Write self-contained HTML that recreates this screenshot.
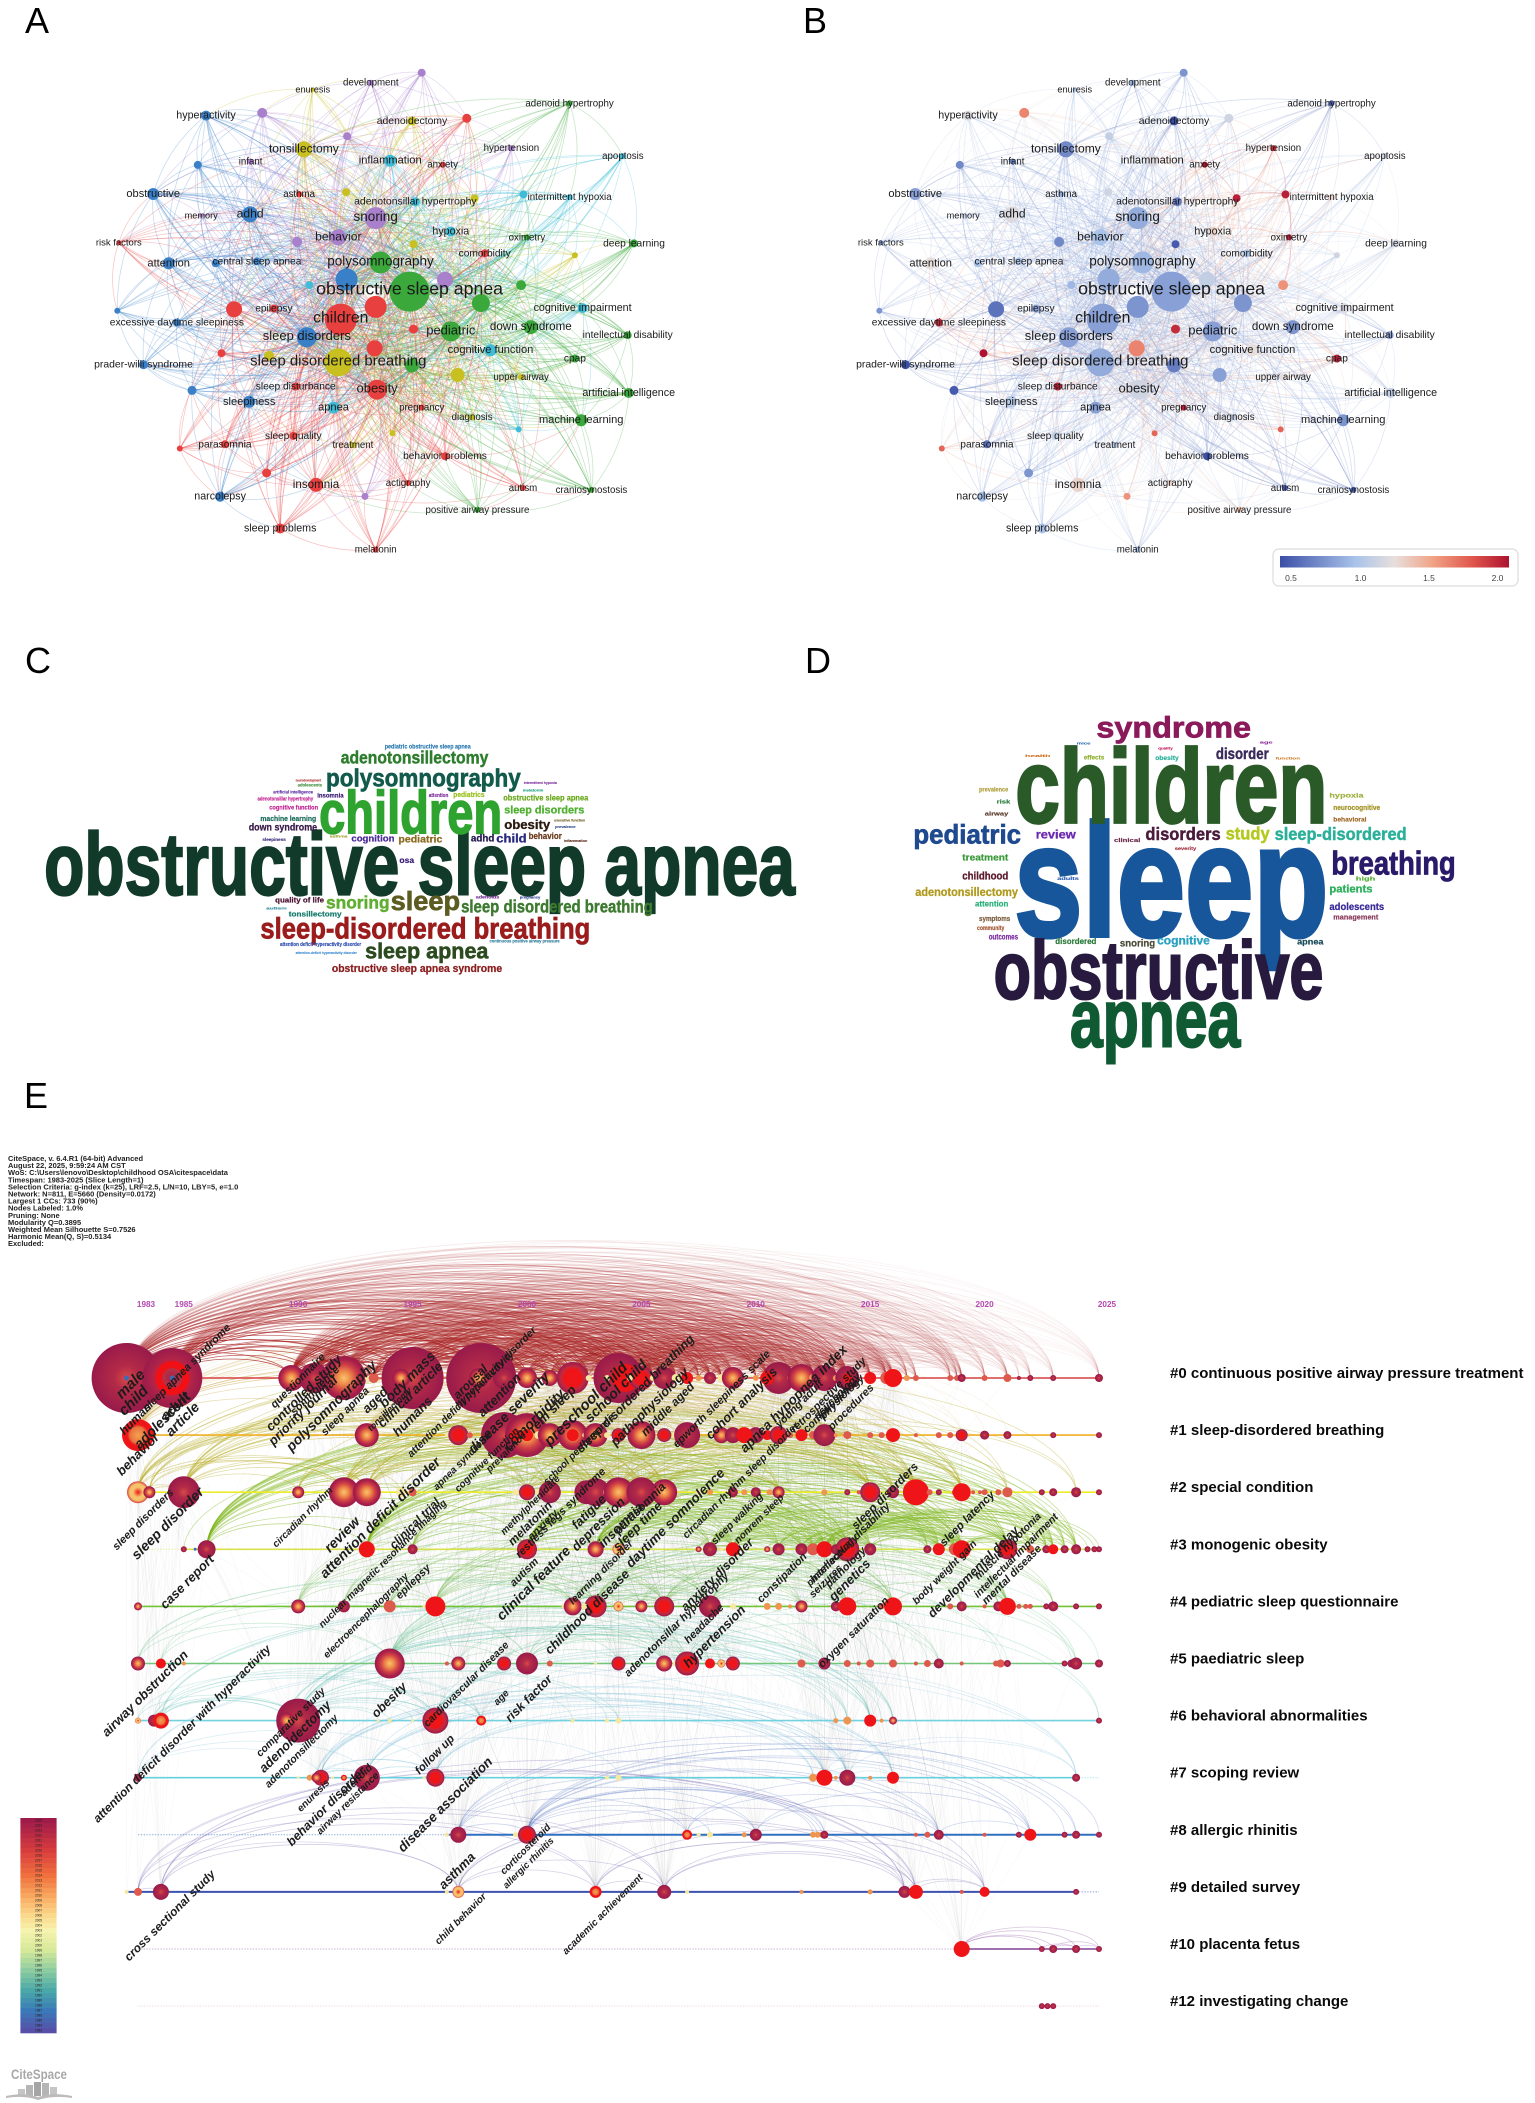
<!DOCTYPE html>
<html lang="en">
<head>
<meta charset="utf-8">
<title>Childhood OSA bibliometric figure</title>
<style>
html,body{margin:0;padding:0;background:#fff}
svg{display:block;font-family:"Liberation Sans",sans-serif}
.panel-letter{font-size:36px;fill:#000}
.word{font-weight:700}
.kw{font-size:10px;fill:#1a1a1a;text-anchor:middle}
.tl{font-weight:700;font-style:italic;fill:#1c1c1c}
.rowname{font-weight:700;font-size:15px;fill:#0a0a0a}
.info{font-weight:700;font-size:7.5px;fill:#222}
.yr{font-size:8.2px;font-weight:700;fill:#b548b0;text-anchor:middle}
#net-a,#net-b{filter:blur(.35px)}
</style>
</head>
<body>
<svg id="figure" xmlns="http://www.w3.org/2000/svg" width="1535" height="2103" viewBox="0 0 1535 2103">
<defs>
<radialGradient id="kind-m"><stop offset="0" stop-color="#f9c46c"/><stop offset=".3" stop-color="#ef8a4a"/><stop offset=".6" stop-color="#cf3f45"/><stop offset=".85" stop-color="#a81f4a"/><stop offset="1" stop-color="#9a1b4b"/></radialGradient>
<radialGradient id="kind-d"><stop offset="0" stop-color="#d84a46"/><stop offset=".35" stop-color="#b32a48"/><stop offset="1" stop-color="#981a4a"/></radialGradient>
<radialGradient id="kind-c"><stop offset="0" stop-color="#f01518"/><stop offset=".55" stop-color="#ee1518"/><stop offset=".72" stop-color="#c22a40"/><stop offset="1" stop-color="#9a1b4b"/></radialGradient>
<radialGradient id="kind-x"><stop offset="0" stop-color="#a62248"/><stop offset=".3" stop-color="#b53246"/><stop offset=".36" stop-color="#f01015"/><stop offset=".55" stop-color="#f01015"/><stop offset=".6" stop-color="#b32548"/><stop offset="1" stop-color="#9a1b4b"/></radialGradient>
<radialGradient id="kind-h"><stop offset="0" stop-color="#f4a050"/><stop offset=".5" stop-color="#e8743f"/><stop offset=".66" stop-color="#ee1518"/><stop offset="1" stop-color="#ee1518"/></radialGradient>
<radialGradient id="kind-p"><stop offset="0" stop-color="#f01518"/><stop offset=".45" stop-color="#f6c26c"/><stop offset=".75" stop-color="#f6c26c"/><stop offset="1" stop-color="#d8413f"/></radialGradient>
<linearGradient id="legend-gradient"><stop offset="0" stop-color="#3b4fa6"/><stop offset=".33" stop-color="#a9c3ea"/><stop offset=".5" stop-color="#e8dfdc"/><stop offset=".67" stop-color="#f0a284"/><stop offset=".84" stop-color="#e0564c"/><stop offset="1" stop-color="#ad1230"/></linearGradient>
</defs>

<text class="panel-letter" x="25" y="33">A</text>
<text class="panel-letter" x="803" y="33">B</text>
<text class="panel-letter" x="25" y="673">C</text>
<text class="panel-letter" x="805" y="673">D</text>
<text class="panel-letter" x="24" y="1108">E</text>

<g id="net-a"></g>
<g id="net-b"></g>

<g font-size="8.5" fill="#444" text-anchor="middle">
<rect x="1273" y="549" width="245" height="37" rx="6" fill="#fff" stroke="#dcdcdc" stroke-width="1.2"/>
<rect x="1280" y="556" width="229" height="11.5" fill="url(#legend-gradient)"/>
<text x="1291" y="581">0.5</text>
<text x="1360.5" y="581">1.0</text>
<text x="1429" y="581">1.5</text>
<text x="1497.5" y="581">2.0</text>
</g>

<g id="cloud-c">
<text class="word" data-box="45 812 793 88" fill="#113a2a">obstructive sleep apnea</text>
<text class="word" data-box="326 513 610 60" fill="#2fa32f">children</text>
<text class="word" data-box="333 532 470 25" fill="#125a4c">polysomnography</text>
<text class="word" data-box="348 499 400 18" fill="#2e7d2e">adenotonsillectomy</text>
<text class="word" data-box="393 481 355 6" fill="#2a7ab0">pediatric obstructive sleep apnea</text>
<text class="word" data-box="266 603 925 30" fill="#9b1c1c">sleep-disordered breathing</text>
<text class="word" data-box="399 470 840 26" fill="#5c5c22">sleep</text>
<text class="word" data-box="333 398 836 18" fill="#5fae2f">snoring</text>
<text class="word" data-box="471 667 848 18" fill="#3d7a30">sleep disordered breathing</text>
<text class="word" data-box="373 499 985 22" fill="#2c4a1f">sleep apnea</text>
<text class="word" data-box="339 513 1026 11" fill="#8b1f1f">obstructive sleep apnea syndrome</text>
<text class="word" data-box="295 349 860 7.5" fill="#137a6a">tonsillectomy</text>
<text class="word" data-box="281 331 818 7.5" fill="#4a1030">quality of life</text>
<text class="word" data-box="515 562 597 13" fill="#2a1a10">obesity</text>
<text class="word" data-box="515 597 550 11" fill="#4fb030">sleep disorders</text>
<text class="word" data-box="514 601 511 8" fill="#6aa81e">obstructive sleep apnea</text>
<text class="word" data-box="481 505 634 10" fill="#241a50">adhd</text>
<text class="word" data-box="507 538 638 12" fill="#2a2a80">child</text>
<text class="word" data-box="540 574 627 9" fill="#6a3a1a">behavior</text>
<text class="word" data-box="407 452 638 10" fill="#8a6a20">pediatric</text>
<text class="word" data-box="359 403 634 9" fill="#4a2a9a">cognition</text>
<text class="word" data-box="254 324 602 10" fill="#3a1a4a">down syndrome</text>
<text class="word" data-box="266 323 573 7.5" fill="#1a6a5a">machine learning</text>
<text class="word" data-box="275 325 539 6.5" fill="#c02090">cognitive function</text>
<text class="word" data-box="324 351 502 6" fill="#3a1a70">insomnia</text>
<text class="word" data-box="463 495 501 7" fill="#9ac01e">pediatrics</text>
<text class="word" data-box="438 458 501 5" fill="#7a2a9a">attention</text>
<text class="word" data-box="279 320 491 4.5" fill="#5a2aa0">artificial intelligence</text>
<text class="word" data-box="263 320 511 5" fill="#c02090">adenotonsillar hypertrophy</text>
<text class="word" data-box="304 329 469 4.5" fill="#3a8a3a">adolescents</text>
<text class="word" data-box="302 328 454 4" fill="#b02a2a">neurodevelopment</text>
<text class="word" data-box="535 569 462 4" fill="#7a2a9a">intermittent hypoxia</text>
<text class="word" data-box="534 555 484 4" fill="#1aa07a">melatonin</text>
<text class="word" data-box="566 598 575 4" fill="#6a5a1a">executive function</text>
<text class="word" data-box="567 588 594 4" fill="#2a4a8a">prevalence</text>
<text class="word" data-box="576 600 636 4" fill="#5a2a1a">inflammation</text>
<text class="word" data-box="268 292 633 4.5" fill="#3a2a7a">sleepiness</text>
<text class="word" data-box="337 355 622 4" fill="#a0a030">asthma</text>
<text class="word" data-box="408 423 699 8" fill="#3a1a7a">osa</text>
<text class="word" data-box="286 369 948 5" fill="#2a4ab0">attention deficit hyperactivity disorder</text>
<text class="word" data-box="500 572 937 4.5" fill="#2a7a9a">continuous positive airway pressure</text>
<text class="word" data-box="302 365 972 4" fill="#3a8ad0">attention-deficit hyperactivity disorder</text>
<text class="word" data-box="486 510 806 4.5" fill="#6a2a8a">adenoids</text>
<text class="word" data-box="531 552 806 4" fill="#2a3a8a">pregnancy</text>
<text class="word" data-box="272 293 838 4" fill="#2a8a9a">autism</text>
</g>

<g id="cloud-d">
<text class="word" data-box="1036 1357 918 160" fill="#17569b">sleep</text>
<text class="word" data-box="1037 1356 577 105" fill="#2a5a28">children</text>
<text class="word" data-box="1015 1352 1105 82" fill="#271a3e">obstructive</text>
<text class="word" data-box="1093 1267 1250 82" fill="#0f5a32">apnea</text>
<text class="word" data-box="1120 1278 322 30" fill="#8a1a5a">syndrome</text>
<text class="word" data-box="933 1043 640 27" fill="#1f4a8f">pediatric</text>
<text class="word" data-box="1360 1487 733 33" fill="#2a1a6a">breathing</text>
<text class="word" data-box="1170 1247 630 18" fill="#4a1a3a">disorders</text>
<text class="word" data-box="1252 1297 628 18" fill="#b4c81e">study</text>
<text class="word" data-box="1302 1437 630 18" fill="#2ab09a">sleep-disordered</text>
<text class="word" data-box="1058 1099 626 12" fill="#6a2ab0">review</text>
<text class="word" data-box="1242 1296 387 16" fill="#3a2a5a">disorder</text>
<text class="word" data-box="983 1030 692 9.5" fill="#3a9a3a">treatment</text>
<text class="word" data-box="983 1030 748 11" fill="#5a1a2a">childhood</text>
<text class="word" data-box="935 1040 798 12" fill="#b09a1e">adenotonsillectomy</text>
<text class="word" data-box="1358 1402 788 11" fill="#2ab05a">patients</text>
<text class="word" data-box="1358 1414 840 10" fill="#3a2a9a">adolescents</text>
<text class="word" data-box="1362 1408 868 7" fill="#8a3a5a">management</text>
<text class="word" data-box="996 1030 830 8" fill="#2ab07a">attention</text>
<text class="word" data-box="1182 1236 943 12" fill="#2aa0c0">cognitive</text>
<text class="word" data-box="1144 1180 950 10" fill="#4a4a3a">snoring</text>
<text class="word" data-box="1078 1120 942 8" fill="#2a7a3a">disordered</text>
<text class="word" data-box="1325 1352 943 8" fill="#1a4a5a">apnea</text>
<text class="word" data-box="1010 1040 928 8" fill="#7a2aa0">outcomes</text>
<text class="word" data-box="1000 1032 873 7.5" fill="#7a5a3a">symptoms</text>
<text class="word" data-box="998 1026 900 6" fill="#a0502a">community</text>
<text class="word" data-box="1006 1030 556 5.5" fill="#5a3a2a">airway</text>
<text class="word" data-box="1018 1032 520 5" fill="#2a7a3a">risk</text>
<text class="word" data-box="1000 1030 484 6" fill="#b0a040">prevalence</text>
<text class="word" data-box="1358 1393 503 6" fill="#a0b040">hypoxia</text>
<text class="word" data-box="1362 1410 540 7" fill="#a09020">neurocognitive</text>
<text class="word" data-box="1362 1396 575 6.5" fill="#a06a2a">behavioral</text>
<text class="word" data-box="1138 1165 636 5" fill="#6a2a4a">clinical</text>
<text class="word" data-box="1180 1204 390 6" fill="#2ab09a">obesity</text>
<text class="word" data-box="1107 1128 388 6" fill="#90b030">effects</text>
<text class="word" data-box="1047 1073 381 4" fill="#d07020">health</text>
<text class="word" data-box="1303 1328 389 4" fill="#d08030">function</text>
<text class="word" data-box="1183 1198 358 4" fill="#c02060">quality</text>
<text class="word" data-box="1100 1114 344 4" fill="#2a6ab0">mice</text>
<text class="word" data-box="1287 1300 340 4" fill="#8a2a9a">age</text>
<text class="word" data-box="1080 1102 750 4.5" fill="#2a5ab0">adults</text>
<text class="word" data-box="1385 1405 752 5" fill="#5ab040">high</text>
<text class="word" data-box="1200 1222 660 5" fill="#a03040">severity</text>
</g>

<g>
<text class="info" x="8" y="1161">CiteSpace, v. 6.4.R1 (64-bit) Advanced</text>
<text class="info" x="8" y="1168.1">August 22, 2025, 9:59:24 AM CST</text>
<text class="info" x="8" y="1175.2">WoS: C:\Users\lenovo\Desktop\childhood  OSA\citespace\data</text>
<text class="info" x="8" y="1182.3">Timespan: 1983-2025 (Slice Length=1)</text>
<text class="info" x="8" y="1189.4">Selection Criteria: g-index (k=25), LRF=2.5, L/N=10, LBY=5, e=1.0</text>
<text class="info" x="8" y="1196.5">Network: N=811, E=5660 (Density=0.0172)</text>
<text class="info" x="8" y="1203.6">Largest 1 CCs: 733 (90%)</text>
<text class="info" x="8" y="1210.7">Nodes Labeled: 1.0%</text>
<text class="info" x="8" y="1217.8">Pruning: None</text>
<text class="info" x="8" y="1224.9">Modularity Q=0.3895</text>
<text class="info" x="8" y="1232">Weighted Mean Silhouette S=0.7526</text>
<text class="info" x="8" y="1239.1">Harmonic Mean(Q, S)=0.5134</text>
<text class="info" x="8" y="1246.2">Excluded:</text>
</g>

<g id="timeline"></g>
<g id="colorbar"></g>

<g fill="#9a9a9a">
<text x="11" y="2079" font-size="13.5" font-weight="700" textLength="56" lengthAdjust="spacingAndGlyphs" fill="#a8a8a8">CiteSpace</text>
<rect x="18" y="2089" width="7" height="7" fill="#c5c5c5"/>
<rect x="26" y="2085" width="7" height="11" fill="#b5b5b5"/>
<rect x="34" y="2082" width="7" height="14" fill="#a5a5a5"/>
<rect x="42" y="2083" width="7" height="13" fill="#b5b5b5"/>
<rect x="50" y="2087" width="7" height="9" fill="#c5c5c5"/>
<path d="M6 2096 Q24 2092 38 2097 Q54 2092 72 2096 L72 2098 Q54 2095 38 2100 Q24 2095 6 2098Z" fill="#bbb"/>
</g>
</svg>

<script>
/* ---------- Keyword network data (panels A, B) ----------
   columns: keyword, map x, map y, occurrence weight, cluster, average normalized citations */
const keywords = [
['obstructive sleep apnea',845,762,20,'g',.85],['children',703,835,16,'r',.85],['polysomnography',785,686,11,'g',.95],
['sleep disordered breathing',698,947,14,'y',.9],['',715,730,11,'b',.9],['',775,802,11,'r',.8],['',918,731,8,'p',1.1],
['',638,745,4,'c',.95],['',992,792,9,'g',.8],['',1075,745,5,'g',1.55],['',483,808,8,'r',.65],['epilepsy',565,806,4,'r',.85],
['sleep disorders',633,881,10,'b',.85],['',773,910,8,'r',1.6],['',853,860,4.5,'r',1.9],['pediatric',930,866,10,'g',.85],
['down syndrome',1095,855,7,'g',.8],['cognitive function',1012,915,6,'c',1.25],['',850,955,7,'g',.7],['',944,980,7,'y',.85],
['obesity',778,1018,10,'r',1.15],['',555,930,5,'y',1.2],['',457,923,4,'r',2],['cpap',1186,937,4,'g',1.95],
['cognitive impairment',1202,805,5,'c',1.2],['intellectual disability',1295,876,4,'g',.85],['artificial intelligence',1297,1027,5,'g',1.1],
['machine learning',1199,1098,6,'g',.8],['upper airway',1075,985,3,'y',1.25],['diagnosis',974,1090,3,'y',1.1],['apnea',688,1065,6,'c',.85],
['sleepiness',514,1050,6,'b',1.05],['sleep disturbance',610,1010,4,'r',1.95],['pregnancy',870,1065,3,'r',1.95],['',1070,1122,3,'c',1.7],
['',810,1132,3,'y',1.7],['sleep quality',605,1139,4,'r',1.1],['parasomnia',464,1161,4,'r',.65],['',371,1172,3,'r',1.7],['treatment',728,1163,3,'y',1.05],
['behavior problems',918,1192,4,'r',.5],['',550,1236,4.5,'r',.8],['insomnia',652,1267,7,'r',1.3],['actigraphy',842,1262,3,'r',1.3],['',753,1297,3.5,'p',1.55],
['autism',1079,1275,3,'r',.55],['craniosynostosis',1220,1280,3,'g',.55],['positive airway pressure',985,1332,3,'g',1.4],['narcolepsy',454,1298,5,'b',1],
['sleep problems',578,1381,5,'r',1],['melatonin',775,1436,3,'r',1],['prader-willi syndrome',296,953,4.5,'b',.5],['',396,1020,4.5,'b',.55],['',242,812,3,'b',.8],
['excessive daytime sleepiness',365,843,4,'b',1.9],['attention',348,688,6,'b',1.25],['central sleep apnea',530,683,4,'b',1],['',445,688,4,'b',1],
['risk factors',245,634,2.5,'r',.85],['memory',415,563,2,'p',1.1],['obstructive',316,507,6,'b',.85],['adhd',516,560,8,'b',1.2],['infant',517,422,3,'p',.7],
['',408,431,4,'b',.75],['hyperactivity',425,302,5,'b',1.2],['',541,295,5,'p',1.6],['enuresis',645,234,2,'y',1],['development',765,216,3,'p',.9],['',870,190,4,'p',.8],
['adenoidectomy',850,316,4.5,'y',.5],['',716,356,4,'p',1.1],['',963,309,4.5,'r',1.15],['tonsillectomy',627,390,8,'y',.75],['inflammation',805,420,6,'c',1.2],
['anxiety',913,430,3,'r',2],['hypertension',1055,387,3,'p',1.9],['adenoid hypertrophy',1175,270,3,'g',.55],['apoptosis',1285,408,3,'c',1.15],['',1080,508,4,'c',1.95],
['intermittent hypoxia',1175,515,3,'c',1.3],['asthma',617,507,3,'r',.9],['',714,502,4,'y',1.15],['adenotonsillar hypertrophy',857,527,4.5,'c',.7],['',979,518,4,'y',1.95],
['snoring',775,570,11,'p',.9],['behavior',698,620,8,'p',1],['',613,632,5,'p',.75],['hypoxia',930,605,5,'c',1.3],['',853,638,4,'y',.55],['oximetry',1087,620,3,'g',1.95],
['comorbidity',1000,662,4,'r',1],['deep learning',1308,636,4,'g',1.15],['',1186,667,3,'y',1.15]
];
const clusterColors = {r:'#e8403f',g:'#3aa83a',b:'#3a80c8',y:'#c8c020',p:'#a880cc',c:'#40bcd8'};
const scoreStops = [.5,1,1.25,1.5,1.75,2];
const scoreColors = ['#3b4fa6','#a9c3ea','#e8dfdc','#f0a284','#e0564c','#ad1230'];

/* ---------- Timeline data (panel E): [year, citation size, ring kind] per cluster ---------- */
const clusterNames = ['#0 continuous positive airway pressure treatment','#1 sleep-disordered breathing','#2 special condition','#3 monogenic obesity','#4 pediatric sleep questionnaire','#5 paediatric sleep','#6 behavioral abnormalities','#7 scoping review','#8 allergic rhinitis','#9 detailed survey','#10 placenta fetus','#12 investigating change'];
const yearTicks = [1983,1985,1990,1995,2000,2005,2010,2015,2020,2025];
const row0 = [[1982.5,35,'d'],[1982.5,2.5,'b'],[1984.5,30,'x'],[1984.5,2.5,'b'],[1989.7,13,'m'],[1990.7,15,'d'],[1992,22,'m'],[1993,2,'y'],[1993.3,5,'s'],[1995,31,'d'],[1994.5,9,'m'],[1998,35,'d'],[1997.9,10,'m'],[1999,11,'d'],[2000,10,'m'],[2001,8,'m'],[2001.6,5,'p'],[2002,16,'c'],[2002.7,3,'y'],[2004,25,'d'],[2004.3,14,'R'],[2003.5,3,'y'],[2005,12,'c'],[2004.5,3,'y'],[2005.5,3,'y'],[2006,11,'d'],[2006.5,4,'y'],[2007,6,'R'],[2007.5,3,'o'],[2008,6,'d'],[2008.5,4,'y'],[2009,11,'m'],[2010,3,'o'],[2011,16,'d'],[2010.5,7,'R'],[2011.5,3,'o'],[2012,14,'m'],[2012.5,4,'o'],[2013,13,'d'],[2013.5,3,'o'],[2014,12,'d'],[2014,5,'R'],[2015,6,'R'],[2015.7,6,'s'],[2016,9,'R'],[2016.6,3,'o'],[2017,3,'s'],[2018.5,3,'s'],[2018.8,3,'s'],[2019,4,'d'],[2020,3,'s'],[2021,4,'s'],[2021.5,2,'d'],[2022,3,'d'],[2023,3,'d'],[2025,4,'d']];
const row1 = [[1983,16,'h'],[1993,12,'m'],[1996.5,2,'y'],[1997,10,'c'],[1997.5,3,'s'],[1998.5,4,'s'],[1999,23,'d'],[2000,22,'m'],[2000,6,'R'],[1999.5,6,'R'],[2000.5,4,'y'],[2001,12,'m'],[2002,15,'m'],[2002,6,'R'],[2002.5,2,'y'],[2003,12,'m'],[2003.5,3,'y'],[2004,7,'c'],[2005,14,'m'],[2006,7,'c'],[2006.5,4,'y'],[2007,13,'d'],[2008.5,8,'m'],[2009,8,'d'],[2010,8,'d'],[2009.5,8,'R'],[2010.5,5,'R'],[2011,9,'c'],[2011.5,3,'s'],[2012,6,'R'],[2012.5,4,'s'],[2013,11,'d'],[2013.5,2,'o'],[2014,4,'s'],[2015,3,'s'],[2015.5,3,'s'],[2016,7,'R'],[2017,2,'s'],[2018,3,'s'],[2018.5,3,'s'],[2019,6,'c'],[2020,4.5,'d'],[2021,4,'d'],[2023,3,'d'],[2025,3,'d']];
const row2 = [[1983,11,'p'],[1983.5,6,'m'],[1985,16,'d'],[1990,6,'m'],[1992,15,'m'],[1993,14,'m'],[1994.5,5,'y'],[1995,4,'s'],[1999.5,3,'y'],[2000,8,'c'],[2000.5,3,'y'],[2001,11,'d'],[2002.6,12,'d'],[2003,14,'d'],[2003.5,4,'y'],[2004,15,'m'],[2004.5,3,'y'],[2005,15,'d'],[2006,13,'m'],[2007.5,3,'y'],[2008,3,'o'],[2009,5,'d'],[2009.5,3,'o'],[2010,5,'d'],[2010.6,3,'o'],[2011,6,'m'],[2013,3,'o'],[2014,3,'d'],[2014.5,2,'s'],[2015,10,'c'],[2016,6,'d'],[2017,13,'R'],[2017.6,3,'s'],[2018,3,'d'],[2018.7,3,'s'],[2019,9,'R'],[2019.5,2,'s'],[2019.8,2,'s'],[2020,3,'s'],[2020.6,3,'s'],[2021,5,'s'],[2022.5,3,'d'],[2023,4,'d'],[2024,5,'d'],[2025,3,'d']];
const row3 = [[1985,3,'d'],[1985.5,1.5,'b'],[1986,9,'d'],[1993,8,'R'],[1995,5,'d'],[2000,10,'c'],[2003,8,'m'],[2004,6,'p'],[2007.5,3,'m'],[2008,7,'d'],[2008.5,2,'y'],[2009,7,'R'],[2010.5,3,'m'],[2011,6,'d'],[2012,6,'d'],[2012.5,6,'s'],[2013,8,'R'],[2013.5,5,'d'],[2014,12,'c'],[2015,6,'d'],[2017.5,4,'d'],[2018,6,'R'],[2018.7,6,'s'],[2019,9,'R'],[2021,10,'c'],[2022,4,'s'],[2022.7,4,'d'],[2023,5,'R'],[2023.5,4,'d'],[2024,5,'d'],[2024.5,3,'d'],[2024.8,3,'d'],[2025,3,'d']];
const row4 = [[1983,4,'m'],[1990,7,'m'],[1992,6,'d'],[1994,6,'s'],[1995.5,1.5,'y'],[1996,10,'R'],[2001.6,2,'y'],[2002,9,'m'],[2003,11,'c'],[2002.5,3,'y'],[2004,5,'p'],[2005,6,'m'],[2006,10,'c'],[2008,11,'d'],[2009,3,'y'],[2010.5,3.5,'o'],[2011,3.5,'o'],[2011.5,2,'o'],[2012,6,'m'],[2013.5,5,'d'],[2014,9,'R'],[2015.5,3,'s'],[2016,9,'R'],[2018.5,3,'s'],[2019,5,'d'],[2020,2,'s'],[2020.6,5,'d'],[2021,8.5,'R'],[2021.5,2.5,'s'],[2021.8,2.5,'s'],[2022,2.5,'s'],[2022.7,3,'d'],[2023,5,'d'],[2024,3,'d'],[2025,3,'d']];
const row5 = [[1983,7,'m'],[1984,5,'R'],[1984.5,1.5,'b'],[1985,2,'o'],[1994,15,'m'],[1996.5,2,'s'],[1997,7,'m'],[1999,7,'c'],[2000,11,'d'],[2001,3,'s'],[2003,1.5,'y'],[2004,7,'c'],[2006,8,'m'],[2006.5,3,'y'],[2007,12,'c'],[2008,5,'R'],[2008.5,4,'p'],[2009,7,'c'],[2012,4,'s'],[2013,6,'d'],[2014,3.5,'s'],[2014.5,2,'s'],[2015,4,'s'],[2016,4,'s'],[2017,2,'s'],[2017.5,3.5,'s'],[2018,5,'d'],[2019,2,'s'],[2020.5,3,'s'],[2020.7,4,'s'],[2021,3.5,'d'],[2023.5,3,'d'],[2023.8,4,'d'],[2024,6,'d'],[2025,4,'d']];
const row6 = [[1983,3,'p'],[1983.7,6,'d'],[1984,8,'h'],[1990,22,'d'],[1989.5,8,'m'],[1993.5,1.5,'y'],[1994,2,'y'],[1995,1.5,'y'],[1995.5,1.5,'y'],[1996,13,'c'],[1998,5,'h'],[2002,2,'y'],[2003.5,2,'y'],[2004,3,'y'],[2013.5,2.5,'o'],[2014,4,'o'],[2015,6,'R'],[2015.5,2,'o'],[2016,4,'m'],[2025,3,'d']];
const row7 = [[1983,4,'d'],[1990,1.5,'y'],[1990.5,3,'o'],[1991,8,'c'],[1990.8,5,'m'],[1991.5,1.5,'y'],[1992,3,'h'],[1992.5,1.5,'y'],[1993,13,'d'],[1995.5,1.5,'y'],[1996,9,'c'],[2003.5,2,'y'],[2004,3,'y'],[2012.5,4,'o'],[2013,8,'R'],[2013.5,2,'o'],[2014,8,'d'],[2015,2,'o'],[2016,6,'R'],[2024,4,'d']];
const row8 = [[1996.5,2,'y'],[1997,8,'d'],[1999.5,2.5,'y'],[2000,9,'c'],[2007,5,'h'],[2007.5,2,'y'],[2008,3,'y'],[2009.5,2.5,'o'],[2010,6,'d'],[2012.5,3,'o'],[2012.7,3,'o'],[2012.9,3,'o'],[2013,4,'d'],[2017,2,'s'],[2017.5,3,'s'],[2018,5,'d'],[2020,2,'s'],[2021.5,3,'d'],[2022,6,'R'],[2023.5,3,'d'],[2024,4,'d'],[2025,3,'d']];
const row9 = [[1982.5,2,'y'],[1983,4,'s'],[1984,8,'d'],[1996.5,2,'y'],[1997,6,'p'],[2003,6,'h'],[2006,7,'d'],[2007,2,'y'],[2012,2,'o'],[2015,2.5,'o'],[2016.5,6,'d'],[2017,7,'R'],[2019,2,'s'],[2020,5,'R'],[2024,3,'d']];
const row10 = [[2019,8,'R'],[2022.5,3,'d'],[2023,4,'d'],[2024,4,'d'],[2025,3,'d']];
const row12 = [[2022.5,3,'d'],[2022.75,3,'d'],[2023,3,'d']];
const clusterRows = [row0,row1,row2,row3,row4,row5,row6,row7,row8,row9,row10,row12];
const lineColors = ['#d64040','#f0b024','#ecec28','#d8e24a','#74c236','#74c67a','#74d2e0','#66d0dc','#3070c0','#3c52b0','#a070b0','#e8b8d0'];
const arcColors = ['#a81f20','#c49a2c','#b4aa1e','#7cb518','#5cb030','#50b878','#58bcb0','#60b0d0','#5070c0','#7060b0','#a070b0','#d8a0c0'];
const arcMinStrength = [35,75,75,32,48,52,30,30,25,24,10,99];
const arcBaseOpacity = [.82,.42,.42,.58,.36,.3,.36,.32,.4,.42,.6,.3];

/* Label layout, in source-crop coordinates: [text, x, y, font px] */
const labelsTopLeft = [['male',318,895,15],['child',325,942,15],['sleep apnea syndrome',385,930,11],['human',325,995,12],['adult',435,955,14],['adolescent',365,1035,14],['article',447,1000,14],['behavior',318,1110,13],['sleep disorders',305,1318,11],['sleep disorder',358,1345,14],['case report',432,1483,13],['questionnaire',718,920,11],['controlled study',708,985,13],['somnolence',770,940,11],['priority journal',715,1025,13],['polysomnography',762,1042,14],['sleep apnea',850,997,11],['aged',960,935,13],['body mass',1005,920,14],['tonsillectomy',970,985,9],['clinical article',1000,975,13],['humans',1040,1000,13],['circadian rhythm',722,1310,10],['review',862,1325,14],['attention deficit disorder',850,1397,14],['clinical trial',1030,1315,12],['nuclear magnetic resonance imaging',843,1535,10],['epilepsy',1045,1455,11],['electroencephalography',855,1620,10],['arousal',1197,895,12],['attention deficit hyperactivity',1075,1058,10.5],['hyperactivity disorder',1200,920,10.5],['attention',1262,945,13],['disease severity',1238,1048,14],['comorbidity',1330,1040,14],['rem sleep',1395,990,13],['apnea syndrome',1142,1150,10],['cognitive function',1198,1155,10],['prevalence',1280,1100,10],['methylphenidate',1318,1275,10],['melatonin',1340,1305,12],['anxiety',1390,1290,11],['restless legs syndrome',1358,1340,11],['autism',1343,1420,11],['clinical feature',1312,1515,14],['school performance',1430,1135,10]];
const labelsTopRight = [['preschool child',0,620,15],['school child',105,550,14],['sleep disordered breathing',82,640,12.5],['pathophysiology',172,620,13],['middle aged',250,590,12],['epworth sleepiness scale',332,625,11],['cohort analysis',420,600,13],['apnea hypopnea index',510,640,13.5],['young adult',600,565,11],['retrospective study',640,580,11],['complication',672,580,11],['psychology',700,540,11],['physiology',715,540,11],['procedures',737,572,11],['circadian rhythm sleep disorder',357,897,10.5],['fatigue',70,870,13],['depression',70,935,13],['insomnia',140,925,13],['parasomnia',180,885,12],['sleep time',178,935,13],['daytime somnolence',212,985,13.5],['sleep walking',432,915,10.5],['nonrem sleep',492,912,10],['learning disorder',60,1095,10.5],['childhood disease',0,1245,13],['anxiety disorder',355,1115,12.5],['adenotonsillar hypertrophy',205,1312,11],['headache',362,1212,11],['hypertension',362,1285,13],['constipation',552,1090,11],['pharmacology',680,1040,10],['intellectual disability',690,1030,11],['sleep disorders',800,870,12],['seizures',688,1075,10.5],['pathology',730,1045,11],['genetics',742,1085,13],['oxygen saturation',712,1285,11],['body weight gain',958,1095,10.5],['sleep latency',1030,920,11.5],['developmental delay',1000,1135,12.5],['muscle hypotonia',1120,1020,10.5],['intellectual impairment',1118,1075,10.5],['mental disease',1140,1095,11]];
const labelsBottom = [['airway obstruction',210,292,13],['attention deficit disorder with hyperactivity',192,550,12],['comparative study',510,352,10.5],['adenoidectomy',518,400,13],['adenotonsillectomy',527,445,10.5],['obesity',738,235,12.5],['cardiovascular disease',838,262,10.5],['age',975,197,10],['risk factor',1000,248,12.5],['follow up',822,405,11.5],['enuresis',590,517,10],['behavior disorder',572,620,12.5],['adenoid',675,470,10.5],['airway resistance',628,585,10],['disease association',790,638,13.5],['asthma',870,750,13],['corticosteroid',988,705,10],['allergic rhinitis',993,747,9.5],['cross sectional study',253,965,12],['child behavior',860,915,10],['academic achievement',1110,945,10]];

/* ---------- Helpers ---------- */
const NS = 'http://www.w3.org/2000/svg';
function make(tag, attrs, parent){
  const el = document.createElementNS(NS, tag);
  for (const k in attrs) el.setAttribute(k, attrs[k]);
  parent.appendChild(el);
  return el;
}
function hexToRgb(h){return [parseInt(h.slice(1,3),16),parseInt(h.slice(3,5),16),parseInt(h.slice(5,7),16)];}
function scoreColor(s){
  let i = 0;
  while (i < scoreStops.length-2 && s > scoreStops[i+1]) i++;
  const t = Math.max(0,Math.min(1,(s-scoreStops[i])/(scoreStops[i+1]-scoreStops[i])));
  const a = hexToRgb(scoreColors[i]), b = hexToRgb(scoreColors[i+1]);
  return 'rgb('+a.map((v,k)=>Math.round(v+(b[k]-v)*t)).join(',')+')';
}

/* ---------- Network panels ---------- */
const mapX = v => v/2.063;
const mapY = v => v/2.613;
const PANEL_B_SHIFT = 762;

function networkLinks(){
  const seen = new Set(), out = [];
  keywords.forEach((a,i)=>{
    const dist = (b)=>Math.hypot(a[1]-b[1],(a[2]-b[2]));
    const ranked = keywords.map((b,j)=>({j,score:j===i?-1:b[3]/(dist(b)+130)})).sort((p,q)=>q.score-p.score);
    const near = keywords.map((b,j)=>({j,d:j===i?1e9:dist(b)})).sort((p,q)=>p.d-q.d);
    const picks = ranked.slice(0,Math.round(10+a[3]*2.2)).map(o=>o.j).concat(near.slice(0,4).map(o=>o.j));
    picks.forEach(j=>{
      const key = i<j?i+'-'+j:j+'-'+i;
      if (seen.has(key)) return;
      seen.add(key);
      out.push([i,j]);
    });
  });
  return out;
}
function linkPath(a,b,shift){
  const x1=mapX(a[1])+shift,y1=mapY(a[2]),x2=mapX(b[1])+shift,y2=mapY(b[2]);
  const mx=(x1+x2)/2,my=(y1+y2)/2,dx=x2-x1,dy=y2-y1;
  let nx=-dy,ny=dx;
  const cx=mapX(770)+shift,cy=mapY(780);
  if ((mx-cx)*nx+(my-cy)*ny<0){nx=-nx;ny=-ny;}
  return 'M'+x1.toFixed(1)+' '+y1.toFixed(1)+'Q'+(mx+nx*.16).toFixed(1)+' '+(my+ny*.16).toFixed(1)+' '+x2.toFixed(1)+' '+y2.toFixed(1);
}
function drawNetwork(rootId, shift, byScore){
  const root = document.getElementById(rootId);
  const linkG = make('g',{fill:'none','stroke-width':.75},root);
  
  
  networkLinks().forEach(([i,j])=>{
    const a=keywords[i],b=keywords[j];
    const owner = a[3]<=b[3]?a:b;
    const col = byScore ? scoreColor((a[5]+b[5])/2) : clusterColors[owner[4]];
    const p = make('path',{d:linkPath(a,b,shift),stroke:col,'stroke-opacity':byScore?.26:.3},linkG);
    
    
  });
  const nodeG = make('g',{},root);
  
  
  keywords.forEach(k=>{
    const col = byScore ? scoreColor(k[5]) : clusterColors[k[4]];
    const c = make('circle',{cx:(mapX(k[1])+shift).toFixed(1),cy:mapY(k[2]).toFixed(1),r:k[3],fill:col},nodeG);
    
    
  });
  keywords.forEach(k=>{
    if (!k[0]) return;
    const t = make('text',{class:'kw',x:(mapX(k[1])+shift).toFixed(1),y:(mapY(k[2])+3).toFixed(1)},root);
    t.setAttribute('font-size',(8.3+k[3]*.47).toFixed(1));
    t.style.fontSize = (8.3+k[3]*.47).toFixed(1)+'px';
    
    
    t.textContent = k[0];
  });
}
drawNetwork('net-a',0,false);
drawNetwork('net-b',PANEL_B_SHIFT,true);

/* ---------- Word clouds: fit each word to its measured box ---------- */
document.querySelectorAll('text[data-box]').forEach(el=>{
  const b = el.getAttribute('data-box').split(' ').map(Number);
  const x0=b[0]/1.0215, x1=b[1]/1.0215, base=630+b[2]/3, fs=b[3];
  el.setAttribute('font-size',fs);
  el.setAttribute('x',0);
  el.setAttribute('y',0);
  el.setAttribute('stroke',el.getAttribute('fill'));
  el.setAttribute('stroke-width',(fs*.025).toFixed(2));
  const w = el.getComputedTextLength();
  el.setAttribute('transform','translate('+x0.toFixed(1)+' '+base.toFixed(1)+') scale('+((x1-x0)/w).toFixed(4)+' 1)');
});

/* ---------- Timeline ---------- */
const xYear = y => 138 + (y-1983)*22.88;
const yRow = i => 1378 + i*57.1;
const kindFill = {m:'url(#kind-m)',d:'url(#kind-d)',c:'url(#kind-c)',x:'url(#kind-x)',h:'url(#kind-h)',p:'url(#kind-p)',R:'#ee1418',o:'#ee9650',y:'#f6e8a0',s:'#dd5a4c',b:'#3d6ab8'};
const tl = document.getElementById('timeline');

const crossG = make('g',{stroke:'#a8a8a8','stroke-width':.6,'stroke-opacity':.09,fill:'none'},tl);


clusterRows.forEach((ra,ia)=>{
  clusterRows.forEach((rb,ib)=>{
    if (ib<=ia) return;
    ra.forEach(a=>{
      rb.forEach(b=>{
        if (a[1]*b[1]<45 || Math.abs(a[0]-b[0])>5) return;
        const l = make('line',{x1:xYear(a[0]).toFixed(1),y1:yRow(ia).toFixed(1),x2:xYear(b[0]).toFixed(1),y2:yRow(ib).toFixed(1)},crossG);
        
        
      });
    });
  });
});

const arcG = make('g',{fill:'none','stroke-width':.8},tl);


[...clusterRows.keys()].reverse().forEach(i=>{
  const row = clusterRows[i].filter(n=>n[2]!=='b');
  const y = yRow(i);
  row.forEach(a=>{
    row.forEach(b=>{
      const gap = b[0]-a[0];
      if (gap<.9 || gap>38) return;
      if (a[1]*b[1]<arcMinStrength[i]) return;
      const span = xYear(b[0])-xYear(a[0]);
      const fade = i<2 ? .06+.94*Math.pow(1-Math.pow((b[0]-1983)/42,1.3),1.4) : .55+.45*Math.min(1,a[1]*b[1]/120);
      const p = make('path',{d:'M'+xYear(a[0]).toFixed(1)+' '+y.toFixed(1)+'A'+(span/2).toFixed(1)+' '+(span*.16).toFixed(1)+' 0 0 1 '+xYear(b[0]).toFixed(1)+' '+y.toFixed(1),stroke:arcColors[i],'stroke-opacity':(arcBaseOpacity[i]*fade).toFixed(3)},arcG);
      
      
    });
  });
});

clusterRows.forEach((row,i)=>{
  const years = row.map(n=>n[0]);
  const guide = make('line',{x1:xYear(1983),x2:xYear(2025),y1:yRow(i),y2:yRow(i),stroke:lineColors[i],'stroke-opacity':.55,'stroke-width':1,'stroke-dasharray':'1.4 1.4'},tl);
  
  
  if (i<11){
    const solid = make('line',{x1:xYear(Math.min(...years)),x2:xYear(Math.max(...years)),y1:yRow(i),y2:yRow(i),stroke:lineColors[i],'stroke-width':i<8?1.6:2},tl);
    
    
  }
});

const nodeGroup = make('g',{},tl);


clusterRows.forEach((row,i)=>{
  row.forEach(n=>{
    const c = make('circle',{cx:xYear(n[0]).toFixed(1),cy:yRow(i).toFixed(1),r:n[1],fill:kindFill[n[2]]},nodeGroup);
    
    
  });
});

yearTicks.forEach((yr,k)=>{
  const first = k===0, last = k===yearTicks.length-1;
  const t = make('text',{class:'yr',x:xYear(yr)+(first?8:last?8:0),y:1307},tl);
  
  
  t.textContent = yr;
});

function placeLabels(list, toX, toY){
  list.forEach(l=>{
    const x=toX(l[1]),y=toY(l[2]);
    const t = make('text',{class:'tl','font-size':l[3],transform:'translate('+x.toFixed(1)+' '+y.toFixed(1)+') rotate(-45)'},tl);
    
    
    t.textContent = l[0];
  });
}
placeLabels(labelsTopLeft, v=>v/2.613, v=>1080+v/2.8);
placeLabels(labelsTopRight, v=>550+v/2.613, v=>1240+v/3);
placeLabels(labelsBottom, v=>v/1.96, v=>1640+v/3);

clusterNames.forEach((name,i)=>{
  const t = make('text',{class:'rowname',x:1170,y:yRow(i)},tl);
  
  
  t.textContent = name;
});

/* ---------- Year colour bar ---------- */
const barStops = [2025,2019,2014,2010,2006,2003,1999,1995,1991,1987,1983];
const barColors = ['#9e1b4a','#d83d3e','#f0703e','#f8a65e','#fbd98c','#f6f3ae','#d6e89a','#8ccca0','#4aa8a8','#3a7ab8','#5650a8'];
function yearColor(y){
  let i=0;
  while(i<barStops.length-2 && y<barStops[i+1]) i++;
  const t=(barStops[i]-y)/(barStops[i]-barStops[i+1]);
  const a=hexToRgb(barColors[i]),b=hexToRgb(barColors[i+1]);
  return 'rgb('+a.map((v,k)=>Math.round(v+(b[k]-v)*t)).join(',')+')';
}
const bar = document.getElementById('colorbar');
const barH = 215/43;
for (let yr=2025; yr>=1983; yr--){
  const yy = 1818+(2025-yr)*barH;
  const r = make('rect',{x:20.4,y:yy.toFixed(2),width:36.2,height:(barH+.3).toFixed(2),fill:yearColor(yr)},bar);
  
  
  const t = make('text',{x:38.5,y:(yy+3.6).toFixed(2),'font-size':3.2,'text-anchor':'middle',fill:'#222'},bar);
  
  
  t.textContent = yr;
}
</script>
</body>
</html>
